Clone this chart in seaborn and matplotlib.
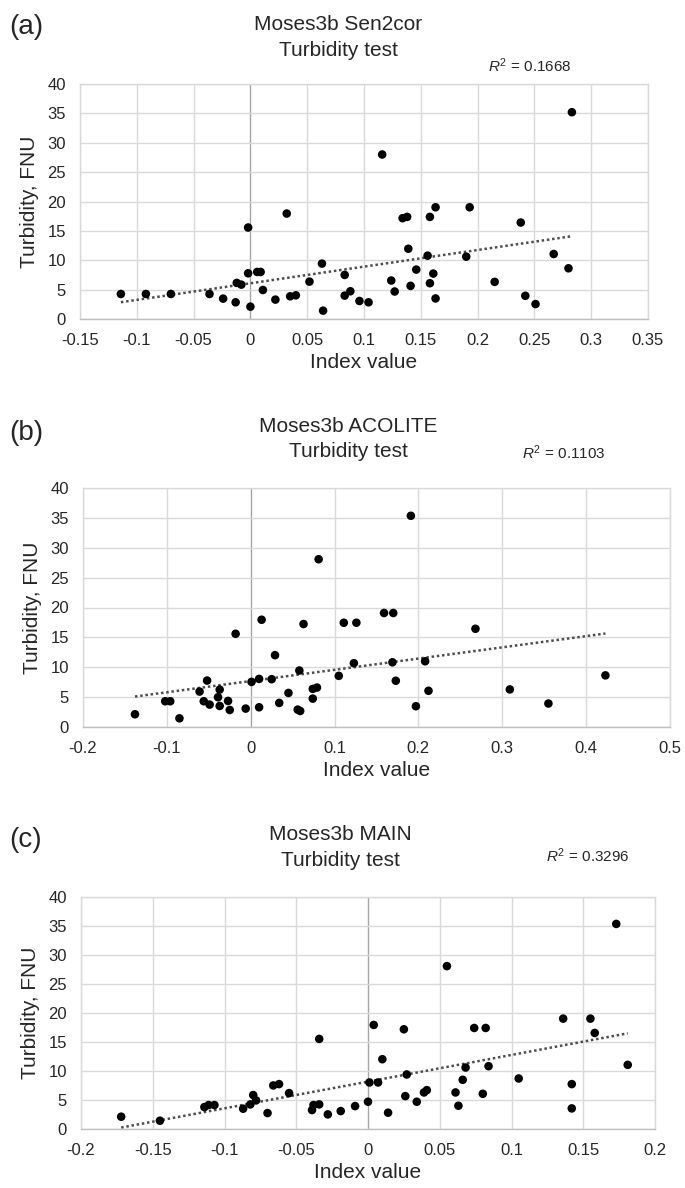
import numpy as np
import pandas as pd
import seaborn as sns
import matplotlib.pyplot as plt

# (a) Moses3b Sen2cor
sen2cor_x = [-0.114, -0.092, -0.070, -0.036, -0.024, -0.013, -0.012, -0.008, -0.002, -0.002,
             0.000, 0.006, 0.009, 0.011, 0.022, 0.032, 0.035, 0.040, 0.052, 0.063,
             0.064, 0.083, 0.083, 0.088, 0.096, 0.104, 0.116, 0.124, 0.127, 0.134,
             0.138, 0.139, 0.141, 0.146, 0.156, 0.158, 0.158, 0.161, 0.163, 0.163,
             0.190, 0.193, 0.215, 0.238, 0.242, 0.251, 0.267, 0.280, 0.283]
sen2cor_y = [4.26, 4.26, 4.26, 4.26, 3.47, 2.84, 6.14, 5.85, 15.57, 7.78,
             2.10, 8.01, 8.01, 4.94, 3.30, 17.95, 3.86, 4.03, 6.36, 9.43,
             1.42, 7.50, 3.98, 4.72, 3.07, 2.84, 28.0, 6.55, 4.68, 17.16,
             17.38, 11.96, 5.64, 8.41, 10.78, 17.38, 6.09, 7.73, 19.02, 3.50,
             10.61, 19.02, 6.32, 16.42, 3.95, 2.54, 11.06, 8.63, 35.2]
sen2cor_ticks = [-0.15, -0.1, -0.05, 0, 0.05, 0.1, 0.15, 0.2, 0.25, 0.3, 0.35]

# (b) Moses3b ACOLITE
acolite_x = [-0.138, -0.102, -0.096, -0.085, -0.061, -0.056, -0.052, -0.049, -0.037, -0.039,
             -0.037, -0.027, -0.025, -0.018, -0.006, 0.001, 0.010, 0.010, 0.013, 0.025,
             0.029, 0.034, 0.045, 0.056, 0.059, 0.058, 0.063, 0.074, 0.074, 0.079,
             0.081, 0.105, 0.111, 0.123, 0.126, 0.191, 0.159, 0.170, 0.268, 0.169,
             0.208, 0.173, 0.212, 0.309, 0.197, 0.355, 0.423]
acolite_y = [2.13, 4.31, 4.31, 1.45, 5.93, 4.31, 7.77, 3.75, 6.26, 4.98,
             3.52, 4.36, 2.85, 15.6, 3.08, 7.55, 8.05, 3.30, 17.95, 8.00,
             12.02, 4.03, 5.70, 2.91, 2.68, 9.45, 17.23, 4.75, 6.38, 6.60,
             28.08, 8.56, 17.45, 10.68, 17.45, 35.35, 19.08, 19.08, 16.44, 10.83,
             11.00, 7.74, 6.06, 6.29, 3.48, 3.93, 8.64]
acolite_ticks = [-0.2, -0.1, 0, 0.1, 0.2, 0.3, 0.4, 0.5]

# (c) Moses3b MAIN
main_x = [-0.172, -0.145, -0.114, -0.111, -0.107, -0.087, -0.082, -0.080, -0.078, -0.070,
          -0.066, -0.062, -0.055, -0.039, -0.038, -0.034, -0.034, -0.028, -0.019, -0.009,
          0.000, 0.001, 0.004, 0.007, 0.173, 0.055, 0.025, 0.074, 0.082, 0.136,
          0.155, 0.158, 0.010, 0.068, 0.084, 0.181, 0.027, 0.066, 0.105, 0.142,
          0.026, 0.039, 0.041, 0.034, 0.061, 0.080, 0.014, 0.063, 0.142]
main_y = [2.12, 1.43, 3.78, 4.13, 4.13, 3.50, 4.24, 5.85, 4.93, 2.75,
          7.51, 7.74, 6.19, 3.27, 4.13, 4.24, 15.53, 2.52, 3.09, 3.95,
          4.70, 8.02, 17.94, 8.02, 35.36, 28.08, 17.19, 17.42, 17.42, 19.03,
          19.03, 16.56, 12.03, 10.60, 10.83, 11.06, 9.40, 8.48, 8.71, 7.74,
          5.67, 6.30, 6.70, 4.70, 6.30, 6.07, 2.81, 4.01, 3.55]
main_ticks = [-0.2, -0.15, -0.1, -0.05, 0, 0.05, 0.1, 0.15, 0.2]

y_ticks = [0, 5, 10, 15, 20, 25, 30, 35, 40]

sns.set_style('white')
plt.rcParams['font.family'] = ['Liberation Sans', 'DejaVu Sans']
plt.rcParams['axes.unicode_minus'] = False
plt.rcParams['mathtext.fontset'] = 'custom'
plt.rcParams['mathtext.rm'] = 'Liberation Sans'
plt.rcParams['mathtext.it'] = 'Liberation Sans:italic'

W, H = 685, 1188
fig = plt.figure(figsize=(W / 100, H / 100), dpi=100)


def fig_text(x, y, s, **kw):
    # x, y in pixels from top left
    fig.text(x / W, 1 - y / H, s, ha='center', va='center', **kw)


def draw_panel(box, xs, ys, xticks, letter, letter_y, title, title_x, title_y, r2, r2_xy):
    left, top, right, bottom = box
    ax = fig.add_axes([left / W, 1 - bottom / H, (right - left) / W, (bottom - top) / H])
    df = pd.DataFrame({'index_value': xs, 'turbidity': ys})

    for t in xticks:
        ax.axvline(t, color='#a6a6a6' if t == 0 else '#d9d9d9', lw=1.0, zorder=0)
    for t in y_ticks:
        ax.axhline(t, color='#d9d9d9', lw=1.0, zorder=0)

    sns.regplot(data=df, x='index_value', y='turbidity', ax=ax, scatter=False, ci=None,
                truncate=True, line_kws=dict(color='#4d4d4d', lw=1.8, ls=(0, (1, 1.1))))
    sns.scatterplot(data=df, x='index_value', y='turbidity', ax=ax, color='black',
                    s=38, edgecolor='none', zorder=3)

    ax.set_xlim(xticks[0], xticks[-1])
    ax.set_ylim(0, 40)
    ax.set_xticks(xticks)
    ax.set_xticklabels([f'{t:g}' for t in xticks])
    ax.set_yticks(y_ticks)
    ax.tick_params(length=0, labelsize=12, labelcolor='#262626', pad=10)
    ax.set_xlabel('Index value', fontsize=15, color='#262626', labelpad=4)
    ax.set_ylabel('Turbidity, FNU', fontsize=15, color='#262626', labelpad=6)
    for sp in ax.spines.values():
        sp.set_color('#d9d9d9')
        sp.set_linewidth(1.0)
    ax.spines['bottom'].set_color('#bfbfbf')

    fig_text(26, letter_y, letter, fontsize=20, color='#262626')
    fig_text(title_x, title_y, title, fontsize=15, color='#262626')
    fig_text(title_x, title_y + 26, 'Turbidity test', fontsize=15, color='#262626')
    fig_text(r2_xy[0], r2_xy[1], r'$R^2$ = ' + r2, fontsize=11, color='#262626')
    return ax


draw_panel((80, 84, 648, 319), sen2cor_x, sen2cor_y, sen2cor_ticks,
           '(a)', 27, 'Moses3b Sen2cor', 338, 24, '0.1668', (530, 66))
draw_panel((83, 488, 670, 727), acolite_x, acolite_y, acolite_ticks,
           '(b)', 433, 'Moses3b ACOLITE', 348, 426, '0.1103', (564, 453))
draw_panel((81, 897, 655, 1129), main_x, main_y, main_ticks,
           '(c)', 840, 'Moses3b MAIN', 340, 834, '0.3296', (588, 856))

fig.savefig('out.png', dpi=100)
